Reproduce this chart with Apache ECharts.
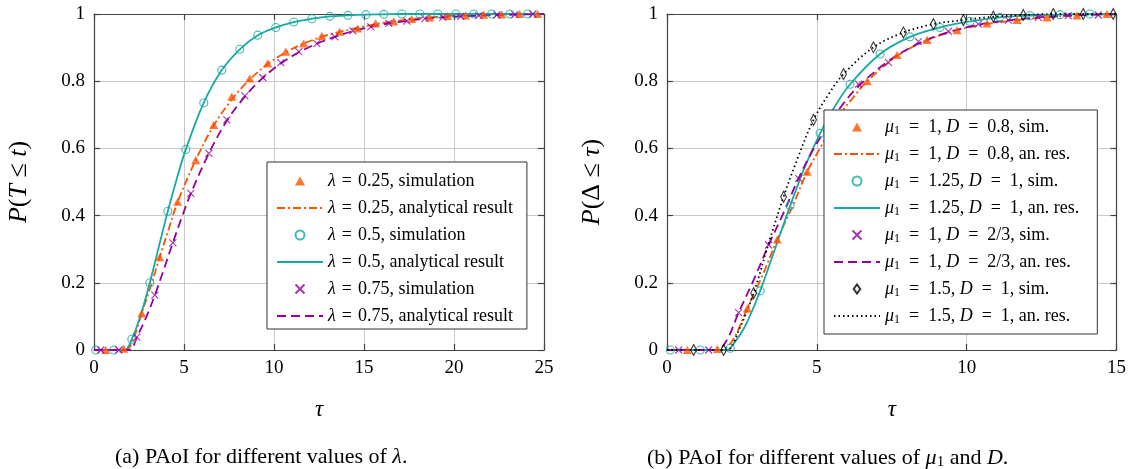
<!DOCTYPE html>
<html>
<head>
<meta charset="utf-8">
<script src="https://cdn.jsdelivr.net/npm/echarts@6/dist/echarts.min.js"></script>
<style>html,body{margin:0;padding:0;background:#fff}#c{width:1129px;height:469px}</style>
</head>
<body>
<div id="c"></div>
<script>
// ---------- data: left panel (PAoI vs lambda) ----------
var simX_l025 = [0.65,1.65,2.65,3.65,4.65,5.65,6.65,7.65,8.65,9.65,10.65,11.65,12.65,13.65,14.65,15.65,16.65,17.65,18.65,19.65,20.65,21.65,22.65,23.65,24.65];
var simY_l025 = [0,0.004,0.109,0.276,0.441,0.565,0.670,0.754,0.808,0.853,0.888,0.912,0.935,0.947,0.957,0.972,0.978,0.985,0.990,0.994,0.996,0.998,0.999,1,1];
var anX_l025 = [0,1.3,1.8,2.2,2.65,3.15,3.65,4.15,4.65,5.65,6.65,7.65,8.65,9.65,10.65,11.65,12.65,13.65,14.65,15.65,16.65,17.65,18.65,19.65,20.65,21.65,22.65,23.65,25];
var anY_l025 = [0,0,0,0.035,0.109,0.19,0.276,0.36,0.441,0.565,0.668,0.745,0.805,0.851,0.886,0.912,0.932,0.947,0.959,0.970,0.978,0.985,0.990,0.994,0.996,0.998,0.999,1,1];

var simX_l05 = [0.1,1.1,2.1,3.1,4.1,5.1,6.1,7.1,8.1,9.1,10.1,11.1,12.1,13.1,14.1,15.1,16.1,17.1,18.1,19.1,20.1,21.1,22.1,23.1,24.1];
var simY_l05 = [0,0,0.032,0.2,0.413,0.597,0.736,0.833,0.895,0.937,0.960,0.976,0.986,0.993,0.996,0.998,0.999,1,1,1,1,1,1,1,1];
var anX_l05 = [0,1.2,1.7,2.1,2.6,3.1,3.6,4.1,4.6,5.1,6.1,7.1,8.1,9.1,10.1,11.1,12.1,13.1,14.1,15.1,16.1,17.1,25];
var anY_l05 = [0,0,0,0.032,0.105,0.2,0.307,0.413,0.51,0.597,0.736,0.833,0.895,0.937,0.960,0.976,0.986,0.993,0.996,0.998,0.999,1,1];

var simX_l075 = [0.38,1.38,2.38,3.38,4.38,5.38,6.38,7.38,8.38,9.38,10.38,11.38,12.38,13.38,14.38,15.38,16.38,17.38,18.38,19.38,20.38,21.38,22.38,23.38,24.38];
var simY_l075 = [0,0,0.038,0.163,0.319,0.466,0.585,0.685,0.756,0.811,0.855,0.888,0.912,0.932,0.950,0.962,0.972,0.979,0.986,0.990,0.993,0.995,0.997,0.998,1];
var anX_l075 = [0,1.5,2.0,2.38,2.88,3.38,3.88,4.38,4.88,5.38,6.38,7.38,8.38,9.38,10.38,11.38,12.38,13.38,14.38,15.38,16.38,17.38,18.38,19.38,20.38,21.38,22.38,23.38,25];
var anY_l075 = [0,0,0,0.038,0.095,0.163,0.24,0.319,0.395,0.466,0.585,0.682,0.754,0.810,0.853,0.886,0.912,0.932,0.949,0.962,0.972,0.979,0.986,0.990,0.993,0.995,0.997,0.998,1];

// ---------- data: right panel (PAoI vs mu1 and D) ----------
var simX_a = [0.68,1.68,2.68,3.68,4.68,5.68,6.68,7.68,8.68,9.68,10.68,11.68,12.68,13.68,14.68];
var simY_a = [0,0.003,0.124,0.329,0.531,0.69,0.80,0.878,0.923,0.952,0.972,0.982,0.990,0.996,1];
var anX_a = [0,1.3,1.8,2.2,2.68,3.2,3.68,4.2,4.68,5.2,5.68,6.2,6.68,7.68,8.68,9.68,10.68,11.68,12.68,13.68,15];
var anY_a = [0,0,0,0.03,0.124,0.225,0.329,0.43,0.531,0.615,0.69,0.75,0.80,0.875,0.922,0.952,0.970,0.982,0.990,0.996,1];

var simX_b = [0.11,1.11,2.11,3.11,4.11,5.11,6.11,7.11,8.11,9.11,10.11,11.11,12.11,13.11,14.11];
var simY_b = [0,0,0.005,0.176,0.429,0.645,0.791,0.881,0.932,0.960,0.978,0.990,0.995,0.998,1];
var anX_b = [0,1.5,2.0,2.11,2.6,3.11,3.6,4.11,4.6,5.11,5.6,6.11,7.11,8.11,9.11,10.11,11.11,12.11,13.11,15];
var anY_b = [0,0,0,0.005,0.07,0.176,0.30,0.429,0.545,0.645,0.725,0.791,0.881,0.932,0.960,0.978,0.990,0.995,0.998,1];

var simX_c = [0.39,1.39,2.39,3.39,4.39,5.39,6.39,7.39,8.39,9.39,10.39,11.39,12.39,13.39,14.39];
var simY_c = [0,0,0.111,0.3125,0.511,0.67,0.791,0.856,0.918,0.948,0.970,0.982,0.990,0.995,0.997];
var anX_c = [0,1.2,1.67,2.0,2.39,2.9,3.39,3.9,4.39,4.9,5.39,5.9,6.39,7.39,8.39,9.39,10.39,11.39,12.39,13.39,15];
var anY_c = [0,0,0,0.03,0.111,0.21,0.3125,0.41,0.511,0.60,0.67,0.735,0.785,0.860,0.912,0.946,0.968,0.981,0.990,0.995,0.999];

var simX_d = [0.89,1.89,2.89,3.89,4.89,5.89,6.89,7.89,8.89,9.89,10.89,11.89,12.89,13.89,14.89];
var simY_d = [0,0,0.169,0.456,0.685,0.821,0.901,0.945,0.970,0.982,0.992,0.997,1,1,1];
var anX_d = [0,1.5,2.0,2.4,2.89,3.4,3.89,4.4,4.89,5.4,5.89,6.89,7.89,8.89,9.89,10.89,11.89,12.89,15];
var anY_d = [0,0,0,0.06,0.169,0.32,0.456,0.58,0.685,0.762,0.821,0.901,0.945,0.970,0.982,0.992,0.997,1,1];

var xTicksLeft = [0,25,5];   // min, max, interval
var xTicksRight = [0,15,5];
var yTicks = [0,1,0.2];

// ---------- styles ----------
var ORANGE = '#ff5200', TEAL = '#16aaa2', PURPLE = '#9400a0', BLACK = '#000000';
var SERIF = '"Liberation Serif","DejaVu Serif",serif';
var CROSS = 'path://M0,0L10,10M10,0L0,10';
var TRI = 'path://M5,0L10,9L0,9Z';
var DIAM = 'path://M4,0L8,5.5L4,11L0,5.5Z';

function pairs(xs, ys){ return xs.map(function(x,i){ return [x, ys[i]]; }); }

var LF = 18;
var rich = {
  i: {fontFamily: SERIF, fontStyle: 'italic', fontSize: LF, color: '#000'},
  r: {fontFamily: SERIF, fontSize: LF, color: '#000'},
  s: {fontFamily: SERIF, fontSize: 12, color: '#000', padding: [8,0,0,0]}
};
var EQ = '\u2004=\u2004';
var EQ2 = '\u2002=\u2002';
var legendText = {
  'l025s': '{i|λ}{r|'+EQ+'0.25, simulation}',
  'l025a': '{i|λ}{r|'+EQ+'0.25, analytical result}',
  'l05s':  '{i|λ}{r|'+EQ+'0.5, simulation}',
  'l05a':  '{i|λ}{r|'+EQ+'0.5, analytical result}',
  'l075s': '{i|λ}{r|'+EQ+'0.75, simulation}',
  'l075a': '{i|λ}{r|'+EQ+'0.75, analytical result}',
  'as': '{i|μ}{s|1}{r|'+EQ2+'1, }{i|D}{r|'+EQ2+'0.8, sim.}',
  'aa': '{i|μ}{s|1}{r|'+EQ2+'1, }{i|D}{r|'+EQ2+'0.8, an. res.}',
  'bs': '{i|μ}{s|1}{r|'+EQ2+'1.25, }{i|D}{r|'+EQ2+'1, sim.}',
  'ba': '{i|μ}{s|1}{r|'+EQ2+'1.25, }{i|D}{r|'+EQ2+'1, an. res.}',
  'cs': '{i|μ}{s|1}{r|'+EQ2+'1, }{i|D}{r|'+EQ2+'2/3, sim.}',
  'ca': '{i|μ}{s|1}{r|'+EQ2+'1, }{i|D}{r|'+EQ2+'2/3, an. res.}',
  'ds': '{i|μ}{s|1}{r|'+EQ2+'1.5, }{i|D}{r|'+EQ2+'1, sim.}',
  'da': '{i|μ}{s|1}{r|'+EQ2+'1.5, }{i|D}{r|'+EQ2+'1, an. res.}'
};

function sim(name, g, xs, ys, symbol, color, filled, size){
  return {
    name: name, type: 'scatter', xAxisIndex: g, yAxisIndex: g,
    data: pairs(xs, ys), symbol: symbol, symbolSize: size || 8, symbolKeepAspect: true,
    itemStyle: filled ? {color: color} : {color: 'rgba(255,255,255,0)', borderColor: color, borderWidth: 1.1},
    z: 4, silent: true
  };
}
function an(name, g, xs, ys, color, type){
  return {
    name: name, type: 'line', xAxisIndex: g, yAxisIndex: g,
    data: pairs(xs, ys), smooth: 0.35, symbol: 'circle', showSymbol: false,
    lineStyle: {color: color, width: 1.8, type: type},
    itemStyle: {color: color},
    z: 3, silent: true
  };
}

var series = [
  sim('l025s', 0, simX_l025, simY_l025, TRI, ORANGE, true, 9),
  an('l025a', 0, anX_l025, anY_l025, ORANGE, [8,3,2,3]),
  sim('l05s', 0, simX_l05, simY_l05, 'circle', TEAL, false, 8),
  an('l05a', 0, anX_l05, anY_l05, TEAL, 'solid'),
  sim('l075s', 0, simX_l075, simY_l075, CROSS, PURPLE, false, 7),
  an('l075a', 0, anX_l075, anY_l075, PURPLE, [9,5]),

  sim('as', 1, simX_a, simY_a, TRI, ORANGE, true, 9),
  an('aa', 1, anX_a, anY_a, ORANGE, [8,3,2,3]),
  sim('bs', 1, simX_b, simY_b, 'circle', TEAL, false, 8),
  an('ba', 1, anX_b, anY_b, TEAL, 'solid'),
  sim('cs', 1, simX_c, simY_c, CROSS, PURPLE, false, 7),
  an('ca', 1, anX_c, anY_c, PURPLE, [9,5]),
  sim('ds', 1, simX_d, simY_d, DIAM, BLACK, false, [8,11]),
  an('da', 1, anX_d, anY_d, BLACK, [1.5,3])
];

var AXC = '#444';
var TF = 19;
function mainX(g, t, nm){
  return {type:'value', gridIndex:g, min:t[0], max:t[1], interval:t[2], position:'bottom',
    axisLine:{show:true, onZero:false, lineStyle:{color:AXC, width:1.2}},
    axisTick:{show:true, inside:true, length:6, lineStyle:{color:AXC, width:1.2}},
    axisLabel:{color:'#000', fontFamily:SERIF, fontSize:TF, margin:9},
    splitLine:{show:true, lineStyle:{color:'#c8c8c8', width:1}},
    name: nm, nameLocation:'middle', nameGap:48,
    nameTextStyle:{fontFamily:SERIF, fontStyle:'italic', fontSize:23, color:'#000'}
  };
}
function topX(g, t){
  return {type:'value', gridIndex:g, min:t[0], max:t[1], interval:t[2], position:'top',
    axisLine:{show:true, onZero:false, lineStyle:{color:AXC, width:1.2}},
    axisTick:{show:true, inside:true, length:6, lineStyle:{color:AXC, width:1.2}},
    axisLabel:{show:false}, splitLine:{show:false}};
}
function mainY(g, nm){
  return {type:'value', gridIndex:g, min:yTicks[0], max:yTicks[1], interval:yTicks[2], position:'left',
    axisLine:{show:true, onZero:false, lineStyle:{color:AXC, width:1.2}},
    axisTick:{show:true, inside:true, length:6, lineStyle:{color:AXC, width:1.2}},
    axisLabel:{color:'#000', fontFamily:SERIF, fontSize:TF, margin:9},
    splitLine:{show:true, lineStyle:{color:'#c8c8c8', width:1}},
    name: nm, nameLocation:'middle', nameGap:62, nameRotate:90,
    nameTextStyle:{fontFamily:SERIF, fontSize:26, color:'#000', rich:{
      i:{fontFamily:SERIF, fontStyle:'italic', fontSize:26, color:'#000'},
      r:{fontFamily:SERIF, fontSize:26, color:'#000'}}}
  };
}
function rightY(g){
  return {type:'value', gridIndex:g, min:yTicks[0], max:yTicks[1], interval:yTicks[2], position:'right',
    axisLine:{show:true, onZero:false, lineStyle:{color:AXC, width:1.2}},
    axisTick:{show:true, inside:true, length:6, lineStyle:{color:AXC, width:1.2}},
    axisLabel:{show:false}, splitLine:{show:false}};
}

// legend entries: analytical (line) entries hide the legend symbol, keeping only the line sample
function legendData(names){
  return names.map(function(n){
    var isLine = n.charAt(n.length-1) === 'a';
    return isLine ? {name: n, itemStyle: {opacity: 0}} : {name: n};
  });
}
function legend(names, left, top, pad){
  return {
    orient:'vertical', left:left, top:top, data:legendData(names),
    backgroundColor:'#fff', borderColor:'#333', borderWidth:1, borderRadius:0,
    padding:pad, itemGap:7, itemWidth:46, itemHeight:9, symbolKeepAspect:true,
    formatter:function(n){ return legendText[n]; },
    textStyle:{fontFamily:SERIF, fontSize:LF, color:'#000', lineHeight:20, rich:rich},
    selectedMode:false, z:10
  };
}

var CF = 22;
var option = {
  backgroundColor:'#fff',
  animation:false,
  grid:[
    {left:94, top:14, width:450, height:336},
    {left:667, top:14, width:450, height:336}
  ],
  xAxis:[mainX(0, xTicksLeft, 'τ'), mainX(1, xTicksRight, 'τ'), topX(0, xTicksLeft), topX(1, xTicksRight)],
  yAxis:[mainY(0, '{i|P}{r|(}{i|T}{r| ≤ }{i|t}{r|)}'), mainY(1, '{i|P}{r|(Δ ≤ }{i|τ}{r|)}'), rightY(0), rightY(1)],
  legend:[
    legend(['l025s','l025a','l05s','l05a','l075s','l075a'], 267, 162, [9,14,3,9]),
    legend(['as','aa','bs','ba','cs','ca','ds','da'], 824, 110, [7,18,8,9])
  ],
  title:[
    {text:'(a) PAoI for different values of {i|λ}.', left:110, top:441,
     textStyle:{fontFamily:SERIF, fontWeight:'normal', fontSize:CF, color:'#000',
       rich:{i:{fontFamily:SERIF, fontStyle:'italic', fontSize:CF, color:'#000'}}}},
    {text:'(b) PAoI for different values of {i|μ}{s|1} and {i|D}.', left:642, top:441,
     textStyle:{fontFamily:SERIF, fontWeight:'normal', fontSize:CF, color:'#000',
       rich:{i:{fontFamily:SERIF, fontStyle:'italic', fontSize:CF, color:'#000'},
             s:{fontFamily:SERIF, fontSize:15, color:'#000', padding:[9,0,0,0]}}}}
  ],
  series: series
};

var chart = echarts.init(document.getElementById('c'), null, {renderer:'canvas'});
chart.setOption(option);
</script>
</body>
</html>
